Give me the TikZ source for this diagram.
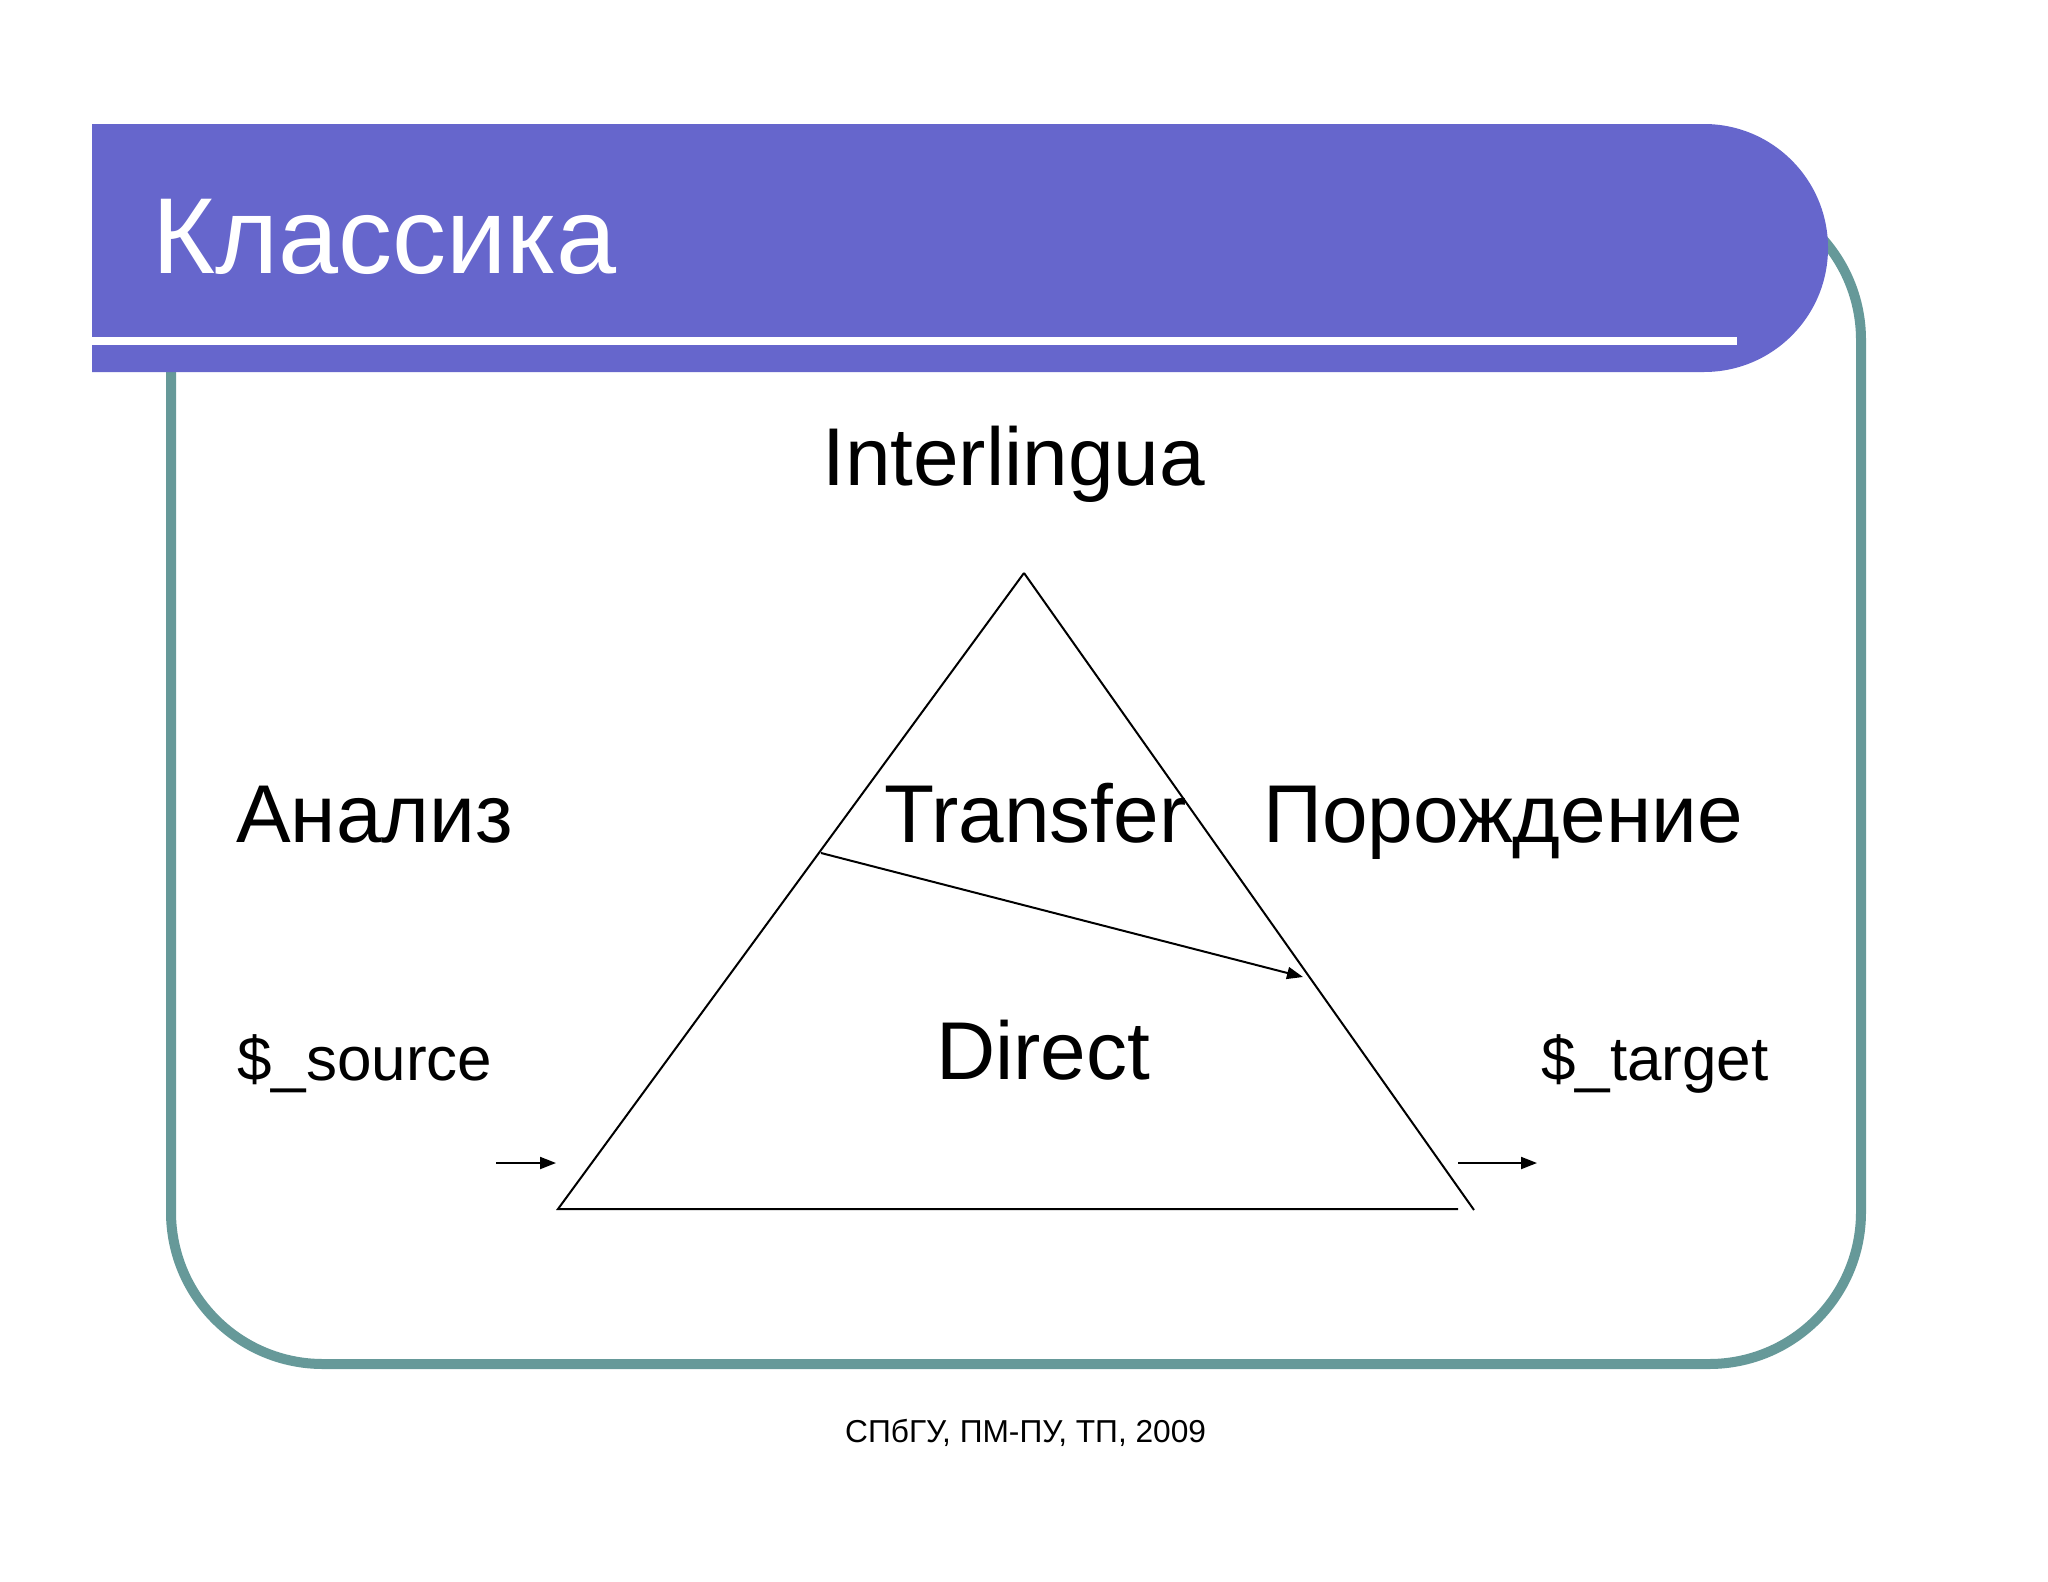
\documentclass[tikz,border=0pt]{standalone}
\usepackage{fontspec}
\setmainfont{Liberation Sans}
\usetikzlibrary{arrows.meta}
\definecolor{barblue}{RGB}{102,102,204}
\definecolor{frameteal}{RGB}{102,153,153}
\tikzset{
  lbl/.style={inner sep=0pt, anchor=base west, font=\fontsize{82}{98}\selectfont},
  small/.style={inner sep=0pt, anchor=base west, font=\fontsize{62}{74}\selectfont},
  thin/.style={line width=2pt, black},
  tip/.style={-{Triangle[length=16pt,width=12pt]}}
}
\begin{document}
\begin{tikzpicture}[x=1pt,y=-1pt]
\useasboundingbox (0,0) rectangle (2048,1582);
\fill[white] (0,0) rectangle (2048,1582);
% frame
\draw[frameteal, line width=10pt, rounded corners=152pt] (171,188) rectangle (1861,1364);
% title bar
\fill[barblue] (92,124) [rounded corners=124pt] -- (1828,124) -- (1828,372) [sharp corners] -- (92,372) -- cycle;
\fill[white] (92,337) rectangle (1737,345);
\node[inner sep=0pt, anchor=base west, text=white, font=\fontsize{108}{120}\selectfont] (title) at (152,273) {Классика};
% labels
\node[lbl] (inter) at (822,485) {Interlingua};
\node[lbl] (analiz) at (236,842) {Анализ};
\node[lbl] (transfer) at (884,842) {Transfer};
\node[lbl] (gen) at (1263,842) {Порождение};
\node[small] (src) at (237,1080) {\$\_source};
\node[lbl] (direct) at (936,1079) {Direct};
\node[small] (tgt) at (1541,1080) {\$\_target};
\node[inner sep=0pt, anchor=base west, font=\fontsize{31.7}{38}\selectfont] (foot) at (845,1442) {СПбГУ, ПМ-ПУ, ТП, 2009};
% triangle
\coordinate (apex) at (1024,573);
\coordinate (bl) at (558,1209);
\coordinate (br) at (1474,1210);
\coordinate (be) at (1458,1209);
\draw[thin, line join=miter] (apex) -- (bl) -- (be);
\draw[thin] (apex) -- (br);
% transfer arrow
\coordinate (ts) at (821,853);
\coordinate (te) at (1303,977);
\draw[thin, tip] (ts) -- (te);
% in/out arrows
\coordinate (ina) at (496,1163);
\coordinate (inb) at (556,1163);
\coordinate (outa) at (1458,1163);
\coordinate (outb) at (1537,1163);
\draw[thin, tip] (ina) -- (inb);
\draw[thin, tip] (outa) -- (outb);
\end{tikzpicture}
\end{document}
